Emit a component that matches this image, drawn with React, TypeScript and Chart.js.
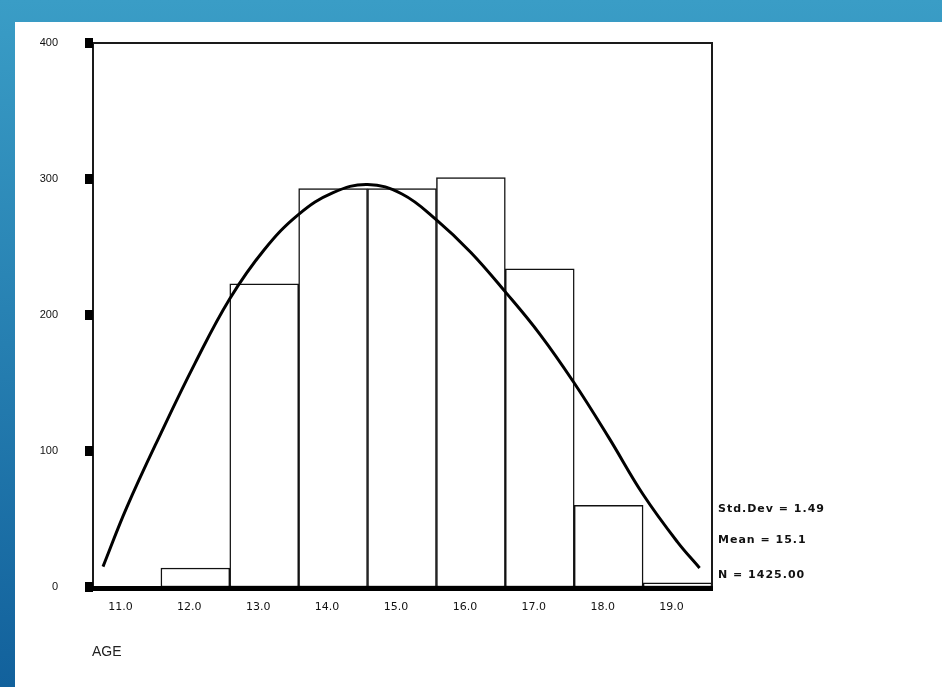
import React, { useEffect, useRef } from "react";
import { Chart, registerables } from "chart.js";

Chart.register(...registerables);

const AGE_BINS = [11, 12, 13, 14, 15, 16, 17, 18, 19];
const COUNTS = [0, 14, 223, 293, 293, 301, 234, 60, 3];
const CURVE_X = [10.66, 11.0, 11.5, 12.0, 12.5, 13.0, 13.5, 14.0, 14.5, 15.0, 15.5, 16.0, 16.5, 17.0, 17.5, 18.0, 18.5, 19.0, 19.32];
const CURVE_Y = [15, 58, 113, 165, 212, 248, 274, 290, 296, 289, 270, 246, 217, 186, 150, 110, 68, 33, 14];
const Y_TICKS = [0, 100, 200, 300, 400];
const STATS = ["Std.Dev = 1.49", "Mean = 15.1", "N = 1425.00"];
const X_TITLE = "AGE";

const decor = {
  id: "decor",
  afterDatasetsDraw(chart: any) {
    const { ctx, chartArea: a, scales } = chart;
    ctx.save();
    ctx.strokeStyle = "#1a1a1a";
    ctx.lineWidth = 2;
    ctx.beginPath();
    ctx.moveTo(a.left, a.top);
    ctx.lineTo(a.right, a.top);
    ctx.lineTo(a.right, a.bottom);
    ctx.moveTo(a.left + 1, a.top);
    ctx.lineTo(a.left + 1, a.bottom);
    ctx.stroke();
    ctx.fillStyle = "#000";
    ctx.fillRect(a.left - 7, a.bottom - 1, a.right - a.left + 8, 5);
    Y_TICKS.forEach((v) => {
      const y = scales.y.getPixelForValue(v);
      ctx.fillRect(a.left - 7, y - 5, 8, 10);
    });
    ctx.fillStyle = "#111";
    ctx.font = 'bold 11px "DejaVu Sans"';
    ctx.textAlign = "left";
    ctx.textBaseline = "middle";
    try {
      (ctx as any).letterSpacing = "1px";
    } catch (e) {}
    const offs = [-78, -47, -12];
    STATS.forEach((s, i) => {
      ctx.fillText(s, a.right + 6, a.bottom + offs[i]);
    });
    try {
      (ctx as any).letterSpacing = "0px";
    } catch (e) {}
    ctx.font = '14px "Liberation Sans"';
    ctx.fillStyle = "#222";
    ctx.fillText(X_TITLE, a.left, a.bottom + 65);
    ctx.restore();
  },
};

export default function App() {
  const ref = useRef<HTMLCanvasElement | null>(null);
  useEffect(() => {
    if (!ref.current) return;
    const chart = new Chart(ref.current, {
      type: "bar",
      data: {
        datasets: [
          {
            type: "line",
            data: CURVE_X.map((x, i) => ({ x, y: CURVE_Y[i] })),
            borderColor: "#000",
            borderWidth: 3,
            pointRadius: 0,
            tension: 0.4,
            fill: false,
            order: 0,
          } as any,
          {
            type: "bar",
            data: AGE_BINS.map((x, i) => ({ x, y: COUNTS[i] })),
            backgroundColor: "#fff",
            borderColor: "#111",
            borderWidth: 1.5,
            borderSkipped: false,
            barPercentage: 1,
            categoryPercentage: 1,
            order: 1,
          } as any,
        ],
      },
      options: {
        animation: false,
        responsive: false,
        layout: { padding: { left: 0, top: 21, right: 230, bottom: 60 } },
        plugins: { legend: { display: false }, tooltip: { enabled: false } },
        scales: {
          x: {
            type: "linear",
            min: 10.5,
            max: 19.5,
            offset: false,
            afterBuildTicks: (s: any) => {
              s.ticks = AGE_BINS.map((v) => ({ value: v }));
            },
            afterFit: (s: any) => {
              s.height = 40;
            },
            grid: { display: false, drawTicks: true, tickLength: 14 },
            border: { display: false },
            ticks: {
              callback: (v: any) => Number(v).toFixed(1),
              font: { family: "DejaVu Sans", size: 11 },
              color: "#111",
              padding: 0,
              labelOffset: -6,
              autoSkip: false,
              maxRotation: 0,
            },
          },
          y: {
            min: 0,
            max: 400,
            afterBuildTicks: (s: any) => {
              s.ticks = Y_TICKS.map((v) => ({ value: v }));
            },
            afterFit: (s: any) => {
              s.width = 77;
            },
            grid: { display: false, drawTicks: true, tickLength: 34 },
            border: { display: false },
            ticks: {
              font: { family: "Liberation Sans", size: 11 },
              color: "#111",
              padding: 0,
            },
          },
        },
      } as any,
      plugins: [decor],
    });
    return () => chart.destroy();
  }, []);

  return (
    <div
      style={{
        position: "absolute",
        left: 0,
        top: 0,
        width: 942,
        height: 687,
        background: "linear-gradient(to bottom, #3a9dc6, #12619c)",
        overflow: "hidden",
      }}
    >
      <div
        style={{
          position: "absolute",
          left: 15,
          top: 22,
          width: 927,
          height: 665,
          background: "#fff",
        }}
      >
        <canvas ref={ref} width={927} height={665} style={{ display: "block", width: 927, height: 665 }} />
      </div>
    </div>
  );
}
